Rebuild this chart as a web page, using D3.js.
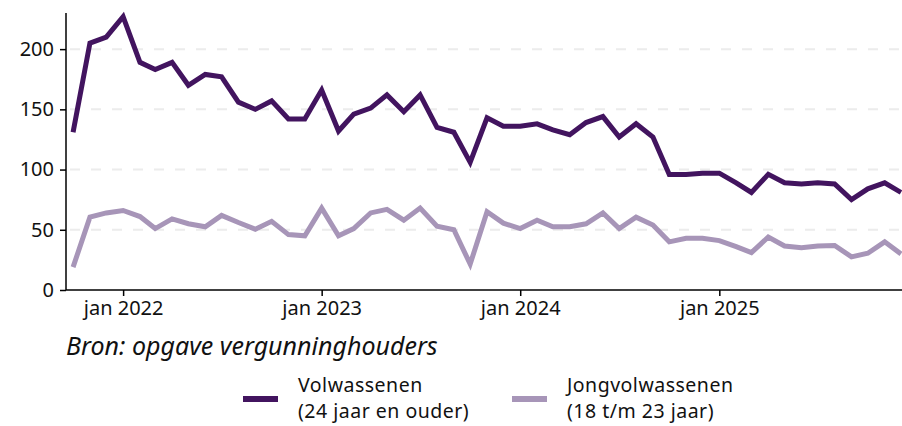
<!DOCTYPE html>
<html>
<head>
<meta charset="utf-8">
<script src="https://cdn.jsdelivr.net/npm/d3@7"></script>
<style>
  body { margin: 0; background: #fff; }
  svg { display: block; font-family: "Noto Sans", sans-serif; }
</style>
</head>
<body>
<div id="chart"></div>
<script>
// monthly figures, oct 2021 .. dec 2025
var startMonth = [2021, 9];
var volwassenen = [131, 205, 210, 227, 189, 183, 189, 170, 179, 177,
  156, 150, 157, 142, 142, 166, 132, 146, 151, 162,
  148, 162, 135, 131, 106, 143, 136, 136, 138, 133,
  129, 139, 144, 127, 138, 127, 96, 96, 97, 97,
  89, 81, 96, 89, 88, 89, 88, 75, 84, 89, 81];
var jongvolwassenen = [19, 60.5, 64, 66, 61, 51, 59, 55, 52.5, 62,
  56, 50.5, 57, 46, 45, 68, 45, 51, 64, 67,
  58, 68, 53, 50, 21.5, 65, 55.5, 51, 58, 52.5,
  52.5, 55, 64, 51, 60.5, 54, 40, 43, 43, 41,
  36, 31, 44, 36.5, 35, 36.5, 37, 27.5, 30.5, 40, 30];
var yTicks = [0, 50, 100, 150, 200];
var xTickYears = [2022, 2023, 2024, 2025];
var seriesNames = [["Volwassenen", "(24 jaar en ouder)"], ["Jongvolwassenen", "(18 t/m 23 jaar)"]];
var colors = ["#42145f", "#a795b8"];
var source = "Bron: opgave vergunninghouders";

var width = 902, height = 426;
var plot = {left: 66, right: 901, top: 13, bottom: 290};

var svg = d3.select("#chart").append("svg")
  .attr("width", width)
  .attr("height", height);

var x = d3.scaleUtc()
  .domain([Date.UTC(2021, 8, 18), Date.UTC(2025, 11, 1)])
  .range([plot.left, plot.right]);
var y = d3.scaleLinear().domain([0, 230]).range([plot.bottom, plot.top]);

function monthDate(i) {
  return new Date(Date.UTC(startMonth[0], startMonth[1] + i, 1));
}

// gridlines
svg.append("g").selectAll("line")
  .data(yTicks.slice(1))
  .enter().append("line")
    .attr("x1", plot.left + 4).attr("x2", width)
    .attr("y1", function(d) { return y(d); })
    .attr("y2", function(d) { return y(d); })
    .attr("stroke", "#ececec")
    .attr("stroke-width", 2)
    .attr("stroke-dasharray", "10,11");

// y axis
var yAxis = svg.append("g")
  .attr("transform", "translate(" + plot.left + ",0)")
  .call(d3.axisLeft(y).tickValues(yTicks).tickSize(6).tickPadding(6).tickSizeOuter(0));
yAxis.select(".domain").attr("d", "M0," + plot.top + "V" + plot.bottom).attr("stroke-width", 1.5);
yAxis.selectAll(".tick line").attr("stroke-width", 1.5);
yAxis.selectAll("text").attr("font-size", 20).attr("fill", "#111")
  .attr("font-family", "'Noto Sans', sans-serif");

// x axis
var xAxis = svg.append("g")
  .attr("transform", "translate(0," + plot.bottom + ")")
  .call(d3.axisBottom(x)
    .tickValues(xTickYears.map(function(yr) { return new Date(Date.UTC(yr, 0, 1)); }))
    .tickFormat(function(d) { return "jan " + d.getUTCFullYear(); })
    .tickSize(6).tickPadding(5).tickSizeOuter(0));
xAxis.select(".domain").attr("d", "M" + plot.left + ",0H" + width).attr("stroke-width", 1.5);
xAxis.selectAll(".tick line").attr("stroke-width", 1.5);
xAxis.selectAll("text").attr("font-size", 20).attr("fill", "#111")
  .attr("font-family", "'Noto Sans', sans-serif");

// lines
var line = d3.line()
  .x(function(d, i) { return x(monthDate(i)); })
  .y(function(d) { return y(d); });

[volwassenen, jongvolwassenen].forEach(function(s, k) {
  svg.append("path")
    .datum(s)
    .attr("fill", "none")
    .attr("stroke", colors[k])
    .attr("stroke-width", 5)
    .attr("d", line);
});

// source note
svg.append("text")
  .attr("x", plot.left)
  .attr("y", 355)
  .attr("font-size", 25)
  .attr("font-style", "italic")
  .attr("fill", "#111")
  .text(source);

// legend
var legendX = [243, 512];
seriesNames.forEach(function(names, k) {
  var g = svg.append("g").attr("transform", "translate(" + legendX[k] + ",0)");
  g.append("line")
    .attr("x1", 0).attr("x2", 35)
    .attr("y1", 399).attr("y2", 399)
    .attr("stroke", colors[k]).attr("stroke-width", 6);
  g.selectAll("text.l")
    .data(names)
    .enter().append("text")
      .attr("x", 55)
      .attr("y", function(d, i) { return 391.5 + i * 26.8; })
      .attr("font-size", 19.5)
      .attr("letter-spacing", 0.5)
      .attr("fill", "#111")
      .text(function(d) { return d; });
});
</script>
</body>
</html>
